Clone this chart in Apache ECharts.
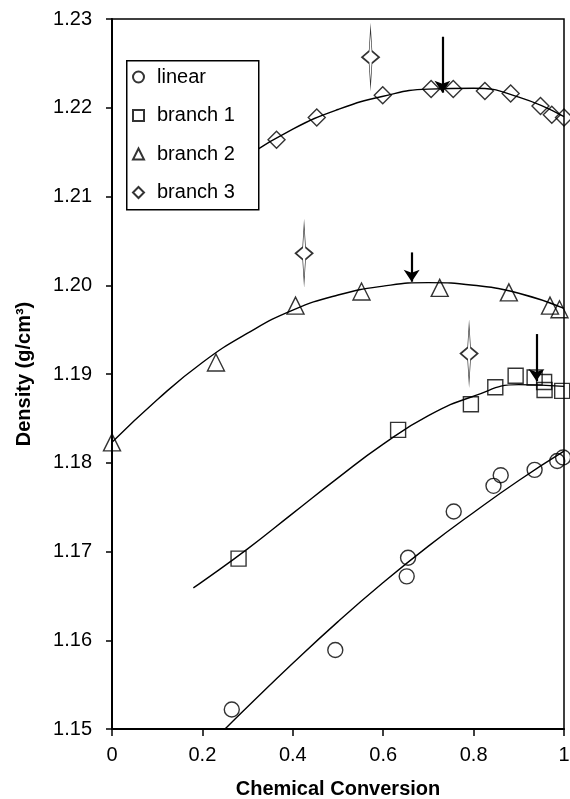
<!DOCTYPE html>
<html>
<head>
<meta charset="utf-8">
<script src="https://cdn.jsdelivr.net/npm/echarts@6/dist/echarts.min.js"></script>
<style>
  html, body { margin: 0; padding: 0; background: #fff; }
  #chart { width: 570px; height: 799px; }
</style>
</head>
<body>
<div id="chart"></div>
<script>
// measured points [conversion, density]
const linearPts = [[0.265, 1.1522], [0.494, 1.1589], [0.652, 1.1672], [0.655, 1.1693], [0.756, 1.1745],
  [0.844, 1.1774], [0.860, 1.1786], [0.935, 1.1792], [0.985, 1.1802], [0.998, 1.1806]]
const branch1Pts = [[0.280, 1.1692], [0.633, 1.1837], [0.794, 1.1866], [0.848, 1.1885], [0.893, 1.1898],
  [0.935, 1.1896], [0.956, 1.1891], [0.957, 1.1882], [0.996, 1.1881]]
const branch2Pts = [[0.0, 1.1823], [0.230, 1.1913], [0.406, 1.1977], [0.552, 1.1993], [0.725, 1.1997],
  [0.878, 1.1992], [0.969, 1.1977], [0.990, 1.1973]]
const branch3Pts = [[0.364, 1.2164], [0.453, 1.2189], [0.599, 1.2214], [0.706, 1.2221], [0.755, 1.2221],
  [0.825, 1.2219], [0.882, 1.2216], [0.948, 1.2202], [0.973, 1.2192], [1.0, 1.2189]]

// fitted curves
const linearFit = [[0.25, 1.1500], [0.3, 1.1525], [0.4, 1.1574], [0.5, 1.1621], [0.6, 1.1665],
  [0.7, 1.1706], [0.8, 1.1744], [0.9, 1.1780], [1.0, 1.1813]]
const branch1Fit = [[0.18, 1.1659], [0.2, 1.1666], [0.3, 1.1703], [0.4, 1.1743], [0.5, 1.1783],
  [0.6, 1.1821], [0.7, 1.1853], [0.8, 1.1875], [0.9, 1.1888], [1.0, 1.1886]]
const branch2Fit = [[0.0, 1.1823], [0.1, 1.1871], [0.2, 1.1913], [0.3, 1.1946], [0.4, 1.1972],
  [0.5, 1.1989], [0.6, 1.1999], [0.7, 1.2003], [0.8, 1.2000], [0.9, 1.1991], [1.0, 1.1974]]
const branch3Fit = [[0.3, 1.2146], [0.4, 1.2176], [0.5, 1.2198], [0.6, 1.2213], [0.7, 1.2221],
  [0.8, 1.2222], [0.9, 1.2212], [1.0, 1.2190]]

// arrows: [x, top, tip]
const arrows = [[0.731, 1.2280, 1.2217], [0.663, 1.2037, 1.2004], [0.939, 1.1945, 1.1892]]
// star marks
const stars = [[0.572, 1.2257], [0.425, 1.2036], [0.790, 1.1923]]

const names = ['linear', 'branch 1', 'branch 2', 'branch 3']
const symbols = ['circle', 'rect', 'triangle', 'diamond']
const sizes = [15, 15, 17, 17]
const pts = [linearPts, branch1Pts, branch2Pts, branch3Pts]
const fits = [linearFit, branch1Fit, branch2Fit, branch3Fit]

const font = 'Liberation Sans, Arial, sans-serif'
const starPath = 'path://M0,-29 L1.4,-6 L8.5,0 L1.4,6 L0,29 L-1.4,6 L-8.5,0 L-1.4,-6 Z'

const series = []
fits.forEach((f, i) => {
  series.push({
    type: 'line', data: f, smooth: true, showSymbol: false, silent: true,
    lineStyle: { color: '#000', width: 1.4 }, z: 2
  })
})
pts.forEach((p, i) => {
  series.push({
    name: names[i], type: 'scatter', data: p, symbol: symbols[i], symbolSize: sizes[i],
    itemStyle: { color: 'rgba(0,0,0,0)', borderColor: '#000', borderWidth: 1.4 }, z: 3
  })
})
series.push({
  type: 'scatter', data: stars, symbol: starPath, symbolSize: [17, 58], silent: true,
  itemStyle: { color: '#fff', borderColor: '#000', borderWidth: 1.2 }, z: 4
})
series.push({
  type: 'line', data: [], silent: true,
  markLine: {
    silent: true, symbol: ['none', 'arrow'], symbolSize: [12, 12], label: { show: false },
    lineStyle: { color: '#000', width: 2.2, type: 'solid' },
    data: arrows.map(a => [{ coord: [a[0], a[1]] }, { coord: [a[0], a[2]] }])
  }
})

const myChart = echarts.init(document.getElementById('chart'))
myChart.setOption({
  animation: false,
  grid: {
    left: 112, right: 6, top: 19, bottom: 70, outerBoundsMode: 'none',
    show: true, borderColor: '#000', borderWidth: 1.5
  },
  xAxis: {
    type: 'value', min: 0, max: 1, interval: 0.2,
    name: 'Chemical Conversion', nameLocation: 'middle', nameGap: 50,
    nameTextStyle: { fontFamily: font, fontSize: 20, fontWeight: 'bold', color: '#000' },
    axisLine: { lineStyle: { color: '#000', width: 2 } },
    axisTick: { length: 7, lineStyle: { color: '#000', width: 1.5 } },
    axisLabel: { fontFamily: font, fontSize: 20, color: '#000', margin: 16 },
    splitLine: { show: false }
  },
  yAxis: {
    type: 'value', min: 1.15, max: 1.23, interval: 0.01,
    name: 'Density (g/cm³)', nameLocation: 'middle', nameGap: 78,
    nameTextStyle: { fontFamily: font, fontSize: 20, fontWeight: 'bold', color: '#000' },
    axisLine: { show: true, lineStyle: { color: '#000', width: 2 } },
    axisTick: { show: true, length: 6, lineStyle: { color: '#000', width: 1.5 } },
    axisLabel: { fontFamily: font, fontSize: 20, color: '#000', margin: 20, formatter: v => v.toFixed(2) },
    splitLine: { show: false }
  },
  legend: {
    data: names, orient: 'vertical', left: 128, top: 62,
    itemWidth: 11, itemHeight: 11, itemGap: 16.5, padding: [4, 8, 4, 4],
    textStyle: { fontFamily: font, fontSize: 20, color: '#000', lineHeight: 22, padding: [0, 0, 0, 8] },
    selectedMode: false, z: 12
  },
  graphic: [{
    type: 'rect', left: 126, top: 60, z: 11,
    shape: { width: 132, height: 149 },
    style: { fill: '#fff', stroke: '#000', lineWidth: 1.5 }
  }],
  series: series
})
</script>
</body>
</html>
